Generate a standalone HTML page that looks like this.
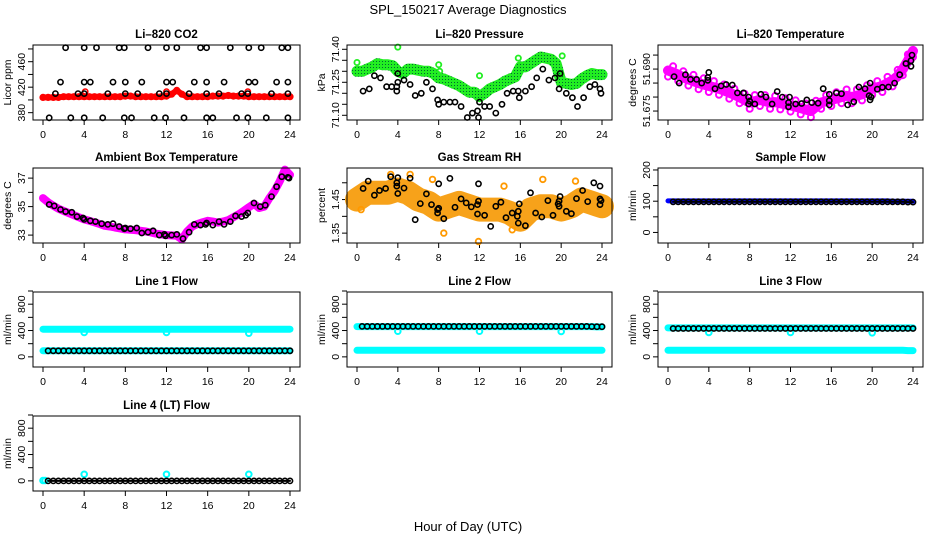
<!DOCTYPE html>
<html><head><meta charset="utf-8"><title>SPL_150217 Average Diagnostics</title>
<style>
html,body{margin:0;padding:0;background:#fff;}
svg{display:block;font-family:"Liberation Sans",Arial,sans-serif;}
</style></head>
<body>
<svg id="chart" width="936" height="540" viewBox="0 0 936 540" xmlns="http://www.w3.org/2000/svg">
<defs>
<pattern id="pGreen" width="3" height="3" patternUnits="userSpaceOnUse"><rect width="3" height="3" fill="#22ee22"/><rect x="1" y="1" width="1" height="1" fill="#063"/></pattern>
</defs>
<rect width="936" height="540" fill="#fff"/>
<text x="468" y="14" text-anchor="middle" font-size="13">SPL_150217  Average Diagnostics</text>
<text x="468" y="531" text-anchor="middle" font-size="13">Hour of Day (UTC)</text>
</svg>
<script>
// ---- shared time grid (hours, half-hour categories) ----
const HALF = [0,0.5,1,1.5,2,2.5,3,3.5,4,4.5,5,5.5,6,6.5,7,7.5,8,8.5,9,9.5,10,10.5,11,11.5,12,12.5,13,13.5,14,14.5,15,15.5,16,16.5,17,17.5,18,18.5,19,19.5,20,20.5,21,21.5,22,22.5,23,23.5,24];
const HALF_B = HALF.slice(1);
const xTicks = [0,4,8,12,16,20,24];

// ---- Li-820 CO2 ----
const co2Red = [404,404,404,404,405,405,405,405,405,405,405,405,405,405,405,405,406,406,405,405,405,405,405,405,406,409,415,409,405,405,405,405,405,406,406,406,407,406,406,406,405,405,405,405,405,405,405,405,405];
const co2RedOutT = [4.1,12,19.9];
const co2RedOutV = [413,413,413];
const co2BlkT = [2.2,4,5.2,7.4,7.9,10.2,12,13,15.3,15.9,18.2,20,21.2,23.2,23.8, 1.7,4,4.6,6.8,8,9.6,12,12.6,14.7,15.9,17.6,20,20.6,22.7,23.8, 1.2,3.4,4,6.3,8,9.2,11.3,12,14.2,15.9,17.1,19.3,19.9,22.2,23.8, 0.6,2.7,4,5.8,7.9,8.6,10.8,11.9,13.7,15.9,16.5,18.8,19.9,21.7,23.8];
const co2BlkV = [482,482,482,482,482,482,482,482,482,482,482,482,482,482,482, 428,428,428,428,428,428,428,428,428,428,428,428,428,428,428, 410,410,410,410,410,410,410,410,410,410,410,410,410,410,410, 372,372,372,372,372,372,372,372,372,372,372,372,372,372,372];

// ---- Li-820 Pressure ----
const presGreen = [71.30,71.30,71.31,71.32,71.335,71.33,71.33,71.325,71.30,71.29,71.31,71.31,71.305,71.30,71.30,71.29,71.27,71.265,71.255,71.245,71.235,71.22,71.205,71.205,71.185,71.20,71.22,71.23,71.24,71.255,71.265,71.275,71.32,71.32,71.335,71.35,71.365,71.36,71.355,71.335,71.25,71.245,71.24,71.245,71.265,71.28,71.29,71.285,71.285];
const presGreenOutT = [0,4,8,8.1,12,15.8,20.1];
const presGreenOutV = [71.34,71.41,71.33,71.30,71.28,71.36,71.37];
const presBlkT = [0.6,1.2,1.7,2.3,2.9,3.4,3.9,3.9,4,4,4.6,5.2,5.7,6.3,6.8,7.4,7.9,8,8.5,9.1,9.6,10.2,10.8,11.3,11.8,11.9,12,12.5,13,13.6,14.2,14.7,15.3,15.8,15.9,16.5,17.1,17.6,18.2,18.8,19.4,19.8,19.9,20.5,21.1,21.6,22.2,22.8,23.3,23.8,23.9];
const presBlkV = [71.21,71.22,71.28,71.27,71.23,71.23,71.21,71.23,71.25,71.29,71.26,71.24,71.19,71.20,71.25,71.22,71.17,71.15,71.16,71.16,71.16,71.14,71.09,71.11,71.12,71.09,71.16,71.14,71.14,71.11,71.15,71.20,71.21,71.21,71.18,71.21,71.23,71.27,71.31,71.26,71.27,71.22,71.29,71.20,71.18,71.14,71.18,71.23,71.24,71.22,71.20];

// ---- Li-820 Temperature ----
const tempMag = [51.6895,51.6888,51.688,51.687,51.6863,51.6857,51.685,51.6845,51.684,51.6835,51.683,51.6823,51.6816,51.6808,51.680,51.679,51.678,51.6785,51.679,51.6785,51.678,51.6782,51.6778,51.6774,51.677,51.6766,51.676,51.6755,51.675,51.6765,51.678,51.6785,51.679,51.6795,51.680,51.6805,51.680,51.6805,51.681,51.682,51.683,51.6835,51.684,51.685,51.686,51.6875,51.690,51.693,51.6965];
const tempBlkT = [0.6,1.1,1.7,2.2,2.8,3.3,3.9,3.9,4,4.6,5.2,5.7,6.3,6.8,7.4,7.9,7.9,8,8.5,9.1,9.6,10.2,10.7,11.2,11.8,11.8,11.9,12.5,13.1,13.6,14.1,14.7,15.2,15.8,15.8,15.8,16.5,17,17.6,18.2,18.7,19.3,19.7,19.9,19.8,19.8,20.5,21,21.6,22.2,22.7,23.3,23.8,23.8,23.9];
const tempBlkV = [51.6873,51.6850,51.6880,51.6863,51.6863,51.6850,51.6860,51.6870,51.6888,51.6830,51.6840,51.6845,51.6843,51.6815,51.6815,51.6800,51.6775,51.6785,51.6775,51.6810,51.6800,51.6775,51.6820,51.6800,51.6765,51.6780,51.6800,51.6775,51.6777,51.6790,51.6780,51.6778,51.6830,51.6787,51.6810,51.6772,51.6815,51.6812,51.6772,51.6783,51.6836,51.6830,51.6805,51.6800,51.6790,51.6850,51.6828,51.6835,51.6836,51.6850,51.6880,51.6920,51.6930,51.6910,51.6950];

// ---- Ambient Box Temperature ----
const ambMag = [35.6,35.3,35.06,34.85,34.7,34.55,34.4,34.25,34.1,34.0,33.9,33.78,33.65,33.6,33.53,33.47,33.4,33.38,33.35,33.3,33.25,33.18,33.1,33.05,33.0,32.98,32.95,32.7,33.25,33.6,33.78,33.9,34.0,33.95,33.88,33.95,34.05,34.25,34.45,34.7,34.95,35.2,34.9,35.0,35.6,36.1,36.77,37.6,37.23];
const ambBlkT = [0.6,1.1,1.7,2.2,2.8,3.3,3.9,4,4.6,5.1,5.7,6.3,6.8,7.4,7.9,8,8.5,9.1,9.6,10.2,10.7,11.3,11.8,11.9,12.5,13,13.6,14.2,14.7,15.3,15.8,15.9,16.5,17.1,17.6,18.2,18.7,19.3,19.7,19.9,20.5,21.1,21.6,22.2,22.7,23.2,23.8,23.9];
const ambBlkV = [35.15,35.05,34.8,34.65,34.6,34.3,34.2,34.1,34.0,33.95,33.8,33.75,33.8,33.6,33.45,33.5,33.45,33.5,33.15,33.2,33.3,33.0,33.05,32.95,33.0,33.05,32.75,33.2,33.75,33.7,33.75,33.85,33.7,33.95,33.75,33.95,34.35,34.3,34.4,34.55,35.25,35.0,35.1,35.7,36.4,37.1,37.05,37.0];

// ---- Gas Stream RH ----
const rhCloud = [1.45,1.46,1.47,1.47,1.47,1.47,1.47,1.475,1.48,1.475,1.47,1.46,1.45,1.445,1.44,1.43,1.42,1.425,1.43,1.435,1.44,1.435,1.43,1.425,1.42,1.42,1.42,1.42,1.42,1.415,1.41,1.40,1.39,1.405,1.42,1.425,1.43,1.43,1.43,1.425,1.42,1.425,1.43,1.44,1.45,1.445,1.44,1.435,1.43];
const rhOutT = [3.3,5.2,7.4,8.5,11.9,14.4,15.2,18.2,21.4,0.4];
const rhOutV = [1.525,1.525,1.51,1.35,1.325,1.49,1.36,1.51,1.505,1.42];
const rhBlkT = [0.6,1.1,1.7,2.2,2.8,3.3,3.9,3.9,4,4,4.6,5.2,5.7,6.2,6.8,7.3,7.9,7.9,8,8.5,8,9.1,9.6,10.2,10.7,11.2,11.8,11.8,11.9,11.9,12.5,13.1,13.6,14.1,14.6,15.2,15.7,15.8,15.8,15.9,16.5,17,17.5,18.1,18.7,19.2,19.7,19.8,19.8,19.9,20.5,21,21.5,22.1,22.6,23.2,23.8,23.8,23.8,23.9];
const rhBlkV = [1.483,1.505,1.463,1.477,1.483,1.518,1.49,1.5,1.515,1.468,1.484,1.514,1.39,1.438,1.467,1.435,1.42,1.41,1.424,1.393,1.497,1.513,1.427,1.452,1.44,1.428,1.407,1.435,1.445,1.497,1.403,1.37,1.43,1.442,1.396,1.41,1.40,1.38,1.415,1.437,1.372,1.47,1.41,1.398,1.447,1.403,1.437,1.445,1.43,1.459,1.415,1.408,1.453,1.477,1.444,1.5,1.49,1.452,1.435,1.447];

// ---- Sample Flow ----
const sampBlue = [101,101,101,101,101,101,101,101,101,101,101,101,101,101,101,101,101,101,101,101,101,101,101,101,101,101,101,101,101,101,101,101,101,101,101,101,101,101,101,101,101,101,101,101,100,100,100,100,100];
const sampBlk = [98,98,98,98,98,98,98,98,98,98,98,98,98,98,98,98,98,98,98,98,98,98,98,98,98,98,98,98,98,98,98,98,98,98,98,98,98,98,98,98,98,98,98,98,98,98,97,97];

// ---- Line 1 Flow ----
const l1CyanHi = [420,420,420,420,420,420,420,420,420,420,420,420,420,420,420,420,420,420,420,420,420,420,420,420,420,420,420,420,420,420,420,420,420,420,420,420,420,420,420,420,420,420,420,420,420,420,420,420,420];
const l1CyanLo = [92,92,92,92,92,92,92,92,92,92,92,92,92,92,92,92,92,92,92,92,92,92,92,92,92,92,92,92,92,92,92,92,92,92,92,92,92,92,92,92,92,92,92,92,92,92,92,92,92];
const l1Blk = [92,92,92,92,92,92,92,92,92,92,92,92,92,92,92,92,92,92,92,92,92,92,92,92,92,92,92,92,92,92,92,92,92,92,92,92,92,92,92,92,92,92,92,92,92,92,92,92];
const l1OutT = [4,12,20];
const l1OutV = [370,370,360];

// ---- Line 2 Flow ----
const l2CyanHi = [460,460,460,460,460,460,460,460,460,460,460,460,460,460,460,460,460,460,460,460,460,460,460,460,460,460,460,460,460,460,460,460,460,460,460,460,460,460,460,460,460,460,460,460,460,460,460,455,455];
const l2CyanLo = [100,100,100,100,100,100,100,100,100,100,100,100,100,100,100,100,100,100,100,100,100,100,100,100,100,100,100,100,100,100,100,100,100,100,100,100,100,100,100,100,100,100,100,100,100,100,100,100,100];
const l2Blk = [462,462,462,462,462,462,462,462,462,462,462,462,462,462,462,462,462,462,462,462,462,462,462,462,462,462,462,462,462,462,462,462,462,462,462,462,462,462,462,462,462,462,462,462,462,460,458,458];
const l2OutT = [4,12,20];
const l2OutV = [390,390,385];

// ---- Line 3 Flow ----
const l3CyanHi = [440,440,440,440,440,440,440,440,440,440,440,440,440,440,440,440,440,440,440,440,440,440,440,440,440,440,440,440,440,440,440,440,440,440,440,440,440,440,440,440,440,440,440,440,440,440,440,440,440];
const l3CyanLo = [100,100,100,100,100,100,100,100,100,100,100,100,100,100,100,100,100,100,100,100,100,100,100,100,100,100,100,100,100,100,100,100,100,100,100,100,100,100,100,100,100,100,100,100,100,100,100,95,95];
const l3Blk = [430,430,430,430,430,430,430,430,430,430,430,430,430,430,430,430,430,430,430,430,430,430,430,430,430,430,430,430,430,430,430,430,430,430,430,430,430,430,430,430,430,430,430,430,430,430,430,430];
const l3OutT = [4,12,20];
const l3OutV = [370,370,365];

// ---- Line 4 (LT) Flow ----
const l4CyanT = [0,0.2];
const l4CyanV = [5,5];
const l4OutT = [4,12,20];
const l4OutV = [100,100,100];
const l4Blk = [0,0,0,0,0,0,0,0,0,0,0,0,0,0,0,0,0,0,0,0,0,0,0,0,0,0,0,0,0,0,0,0,0,0,0,0,0,0,0,0,0,0,0,0,0,0,0,0];

// ---- layout ----
const NS = "http://www.w3.org/2000/svg";
const svg = document.getElementById("chart");
const COLS = [[33,300],[347,612],[658,923]];
const ROWS = [45,168,292,416];
const PH = 75;

function mk(tag, attrs, parent) {
  const e = document.createElementNS(NS, tag);
  for (const k in attrs) e.setAttribute(k, attrs[k]);
  (parent || svg).appendChild(e);
  return e;
}

function makePanel(col, row, name, title, ylab, lo, hi, ticks, labels) {
  const [bl, br] = COLS[col];
  const top = ROWS[row], bot = top + PH;
  const g = mk("g", {});
  
  
  const xs = t => bl + 10 + t * (br - bl - 20) / 24;
  const ys = v => top + (hi - v) / (hi - lo) * PH;
  const tt = mk("text", {x: (bl + br) / 2, y: top - 7, "text-anchor": "middle", "font-size": "11.5", "font-weight": "bold"}, g);
  tt.textContent = title;
  
  
  const yl = mk("text", {x: 0, y: 0, transform: `translate(${bl - 22},${top + PH / 2}) rotate(-90)`, "text-anchor": "middle", "font-size": "10.5"}, g);
  yl.textContent = ylab;
  
  
  ticks.forEach(v => {
    const y = ys(v);
    mk("line", {x1: bl - 5, x2: bl, y1: y, y2: y, stroke: "#000", "stroke-width": 1}, g);
  });
  labels.forEach(s => {
    const y = ys(Number(s));
    const tl = mk("text", {x: 0, y: 0, transform: `translate(${bl - 8},${y}) rotate(-90)`, "text-anchor": "middle", "font-size": "10.5"}, g);
    tl.textContent = String(s);
    
    
  });
  xTicks.forEach(t => {
    const x = xs(t);
    mk("line", {x1: x, x2: x, y1: bot, y2: bot + 5, stroke: "#000", "stroke-width": 1}, g);
    const tl = mk("text", {x: x, y: bot + 18, "text-anchor": "middle", "font-size": "10.5"}, g);
    tl.textContent = String(t);
    
    
  });
  const plot = mk("g", {}, g);
  
  
  const box = mk("rect", {x: bl, y: top, width: br - bl, height: PH, fill: "none", stroke: "#000", "stroke-width": 1}, g);
  
  
  return {g: plot, xs, ys};
}

function band(P, T, V, color, width, sname) {
  const pts = T.map((t, i) => P.xs(t).toFixed(1) + "," + P.ys(V[i]).toFixed(1)).join(" ");
  const pl = mk("polyline", {points: pts, fill: "none", stroke: color, "stroke-width": width, "stroke-linejoin": "round", "stroke-linecap": "round"}, P.g);
  
  
}
function pts(P, T, V, color, sname, r, sw) {
  T.forEach((t, i) => {
    const c = mk("circle", {cx: P.xs(t).toFixed(1), cy: P.ys(V[i]).toFixed(1), r: r || 2.6, fill: "none", stroke: color, "stroke-width": sw || 1.6}, P.g);
    
    
  });
}

// Row 1
let P = makePanel(0, 0, "co2", "Li\u2013820 CO2", "Licor ppm", 368.5, 486.2, [380,400,420,440,460,480], ["380","420","460"]);
band(P, HALF, co2Red, "#f00", 6, "co2-red-series");
pts(P, HALF, co2Red, "#f00", "co2-red-point", 2.6, 2);
pts(P, co2RedOutT, co2RedOutV, "#f00", "co2-red-outlier");
pts(P, co2BlkT, co2BlkV, "#000", "co2-black-point");

P = makePanel(1, 0, "pressure", "Li\u2013820 Pressure", "kPa", 71.0786, 71.4195, [71.10,71.15,71.20,71.25,71.30,71.35,71.40], ["71.10","71.25","71.40"]);
band(P, HALF, presGreen, "url(#pGreen)", 11, "pressure-green-series");
pts(P, presGreenOutT, presGreenOutV, "#2e2", "pressure-green-outlier", 2.6, 1.8);
pts(P, presBlkT, presBlkV, "#000", "pressure-black-point");

P = makePanel(2, 0, "li820-temp", "Li\u2013820 Temperature", "degrees C", 51.6718, 51.6986, [51.675,51.680,51.685,51.690,51.695], ["51.675","51.690"]);
band(P, HALF, tempMag, "#f0f", 10, "temp-magenta-series");
pts(P, HALF, tempMag.map((v, i) => v + (i % 2 ? 0.0022 : -0.0022)), "#f0f", "temp-magenta-point", 3, 2);
pts(P, tempBlkT, tempBlkV, "#000", "temp-black-point");

// Row 2
P = makePanel(0, 1, "ambient", "Ambient Box Temperature", "degrees C", 32.445, 37.71, [33,34,35,36,37], ["33","35","37"]);
band(P, HALF, ambMag, "#f0f", 8, "ambient-magenta-series");
pts(P, ambBlkT, ambBlkV, "#000", "ambient-black-point");

P = makePanel(1, 1, "rh", "Gas Stream RH", "percent", 1.3206, 1.544, [1.35,1.40,1.45,1.50], ["1.35","1.45"]);
band(P, HALF, rhCloud, "#f7a21a", 24, "rh-cloud-series");
pts(P, rhOutT, rhOutV, "#f90", "rh-orange-outlier", 2.8, 1.8);
pts(P, rhBlkT, rhBlkV, "#000", "rh-black-point");

P = makePanel(2, 1, "sample-flow", "Sample Flow", "ml/min", -33.8, 206.3, [0,50,100,150,200], ["0","100","200"]);
band(P, HALF, sampBlue, "#00f", 5, "sample-blue-series");
band(P, HALF_B, sampBlk, "#000", 2, "sample-black-line");
pts(P, HALF_B, sampBlk, "#000", "sample-black-point");

// Row 3
const FT = [0,200,400,600,800,1000], FL = ["0","400","800"];
P = makePanel(0, 2, "line1", "Line 1 Flow", "ml/min", -154, 985, FT, FL);
band(P, HALF, l1CyanHi, "#0ff", 7, "line1-cyan-high");
band(P, HALF, l1CyanLo, "#0ff", 7, "line1-cyan-low");
pts(P, l1OutT, l1OutV, "#0ff", "line1-cyan-outlier", 2.8, 2);
pts(P, HALF_B, l1Blk, "#000", "line1-black-point");

P = makePanel(1, 2, "line2", "Line 2 Flow", "ml/min", -154, 985, FT, FL);
band(P, HALF, l2CyanHi, "#0ff", 7, "line2-cyan-high");
band(P, HALF, l2CyanLo, "#0ff", 7, "line2-cyan-low");
pts(P, l2OutT, l2OutV, "#0ff", "line2-cyan-outlier", 2.8, 2);
pts(P, HALF_B, l2Blk, "#000", "line2-black-point");

P = makePanel(2, 2, "line3", "Line 3 Flow", "ml/min", -154, 985, FT, FL);
band(P, HALF, l3CyanHi, "#0ff", 7, "line3-cyan-high");
band(P, HALF, l3CyanLo, "#0ff", 7, "line3-cyan-low");
pts(P, l3OutT, l3OutV, "#0ff", "line3-cyan-outlier", 2.8, 2);
pts(P, HALF_B, l3Blk, "#000", "line3-black-point");

// Row 4
P = makePanel(0, 3, "line4", "Line 4 (LT) Flow", "ml/min", -154, 985, FT, FL);
pts(P, l4CyanT, l4CyanV, "#0ff", "line4-cyan-point", 2.8, 2);
pts(P, l4OutT, l4OutV, "#0ff", "line4-cyan-outlier", 2.8, 2);
band(P, HALF_B, l4Blk, "#000", 2, "line4-black-line");
pts(P, HALF_B, l4Blk, "#000", "line4-black-point");
</script>
</body></html>
